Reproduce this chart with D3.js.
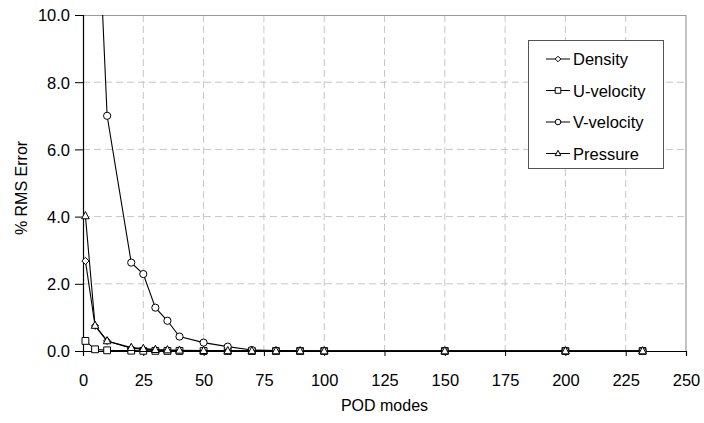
<!DOCTYPE html>
<html>
<head>
<meta charset="utf-8">
<script src="https://cdn.jsdelivr.net/npm/d3@7"></script>
<style>
  html, body { margin: 0; padding: 0; background: #fff; }
  svg { display: block; font-family: "Liberation Sans", Arial, sans-serif; }
</style>
</head>
<body>
<svg id="chart" width="704" height="423"></svg>
<script>
// Number of POD modes retained
const modes = [1, 5, 10, 20, 25, 30, 35, 40, 50, 60, 70, 80, 90, 100, 150, 200, 232];

// % RMS reconstruction error per flow variable
const density   = [2.68, 0.75, 0.30, 0.08, 0.05, 0.03, 0.02, 0.01, 0.005, 0.003, 0.002, 0.001, 0.001, 0.0, 0.0, 0.0, 0.0];
const uVelocity = [0.30, 0.05, 0.02, 0.01, 0.005, 0.004, 0.003, 0.002, 0.001, 0.001, 0.0, 0.0, 0.0, 0.0, 0.0, 0.0, 0.0];
const vVelocity = [30.0, 15.1, 7.0, 2.63, 2.29, 1.29, 0.90, 0.43, 0.25, 0.13, 0.03, 0.01, 0.005, 0.002, 0.0, 0.0, 0.0];
const pressure  = [4.02, 0.76, 0.30, 0.10, 0.07, 0.04, 0.03, 0.02, 0.01, 0.005, 0.003, 0.002, 0.001, 0.0, 0.0, 0.0, 0.0];

const seriesNames = ["Density", "U-velocity", "V-velocity", "Pressure"];
const seriesValues = [density, uVelocity, vVelocity, pressure];
const seriesMarkers = ["diamond", "square", "circle", "triangle"];

const xTicks = [0, 25, 50, 75, 100, 125, 150, 175, 200, 225, 250];
const yTicks = [0, 2, 4, 6, 8, 10];

const svg = d3.select("#chart");
const margin = { top: 15, right: 18, bottom: 72, left: 83 };
const W = 704, H = 423;
const iw = W - margin.left - margin.right;
const ih = H - margin.top - margin.bottom;

const x = d3.scaleLinear().domain([0, 250]).range([0, iw]);
const y = d3.scaleLinear().domain([0, 10]).range([ih, 0]);

const g = svg.append("g").attr("transform", `translate(${margin.left},${margin.top})`);

// Dashed grid
g.append("g").selectAll("line").data(xTicks.filter(d => d > 0 && d < 250)).join("line")
  .attr("x1", d => x(d)).attr("x2", d => x(d)).attr("y1", 0).attr("y2", ih)
  .attr("stroke", "#c6c6c6").attr("stroke-dasharray", "7,4");
g.append("g").selectAll("line").data(yTicks.filter(d => d > 0 && d < 10)).join("line")
  .attr("x1", 0).attr("x2", iw).attr("y1", d => y(d)).attr("y2", d => y(d))
  .attr("stroke", "#c6c6c6").attr("stroke-dasharray", "7,4");

// Plot-area frame (top and right)
g.append("path")
  .attr("d", `M0,0.5H${iw}V${ih}`)
  .attr("fill", "none").attr("stroke", "#9a9a9a").attr("stroke-width", 1.2);

// Axes
const xAxis = g.append("g").attr("transform", `translate(0,${ih})`)
  .call(d3.axisBottom(x).tickValues(xTicks).tickFormat(d3.format("d")).tickSize(5).tickPadding(18));
const yAxis = g.append("g")
  .call(d3.axisLeft(y).tickValues(yTicks).tickFormat(d3.format(".1f")).tickSize(8).tickPadding(5));
[xAxis, yAxis].forEach(a => {
  a.select(".domain").attr("stroke", "#000").attr("stroke-width", 1.2);
  a.selectAll(".tick line").attr("stroke", "#000");
  a.selectAll(".tick text").attr("font-size", 16.5).attr("fill", "#000")
    .attr("font-family", "'Liberation Sans', Arial, sans-serif");
});
yAxis.selectAll(".tick text").attr("dy", "0.36em");

// Axis titles
svg.append("text")
  .attr("x", margin.left + x(125)).attr("y", 411)
  .attr("text-anchor", "middle").attr("font-size", 16).text("POD modes");
svg.append("text")
  .attr("transform", `translate(27,${margin.top + ih / 2 + 5}) rotate(-90)`)
  .attr("text-anchor", "middle").attr("font-size", 16).text("% RMS Error");

// Marker shapes
function markerPath(type, s) {
  switch (type) {
    case "diamond": return `M0,${-s}L${s},0L0,${s}L${-s},0Z`;
    case "square": return `M${-s},${-s}H${s}V${s}H${-s}Z`;
    case "triangle": return `M0,${-s * 1.15}L${s},${s * 0.75}H${-s}Z`;
    default: return null;
  }
}
function drawMarker(sel, type, s) {
  if (type === "circle") {
    sel.append("circle").attr("r", s).attr("fill", "#fff").attr("stroke", "#000").attr("stroke-width", 1);
  } else {
    sel.append("path").attr("d", markerPath(type, s)).attr("fill", "#fff").attr("stroke", "#000").attr("stroke-width", 1);
  }
}

// Clip to the plot area top so off-scale values run out of view
svg.append("defs").append("clipPath").attr("id", "plotClip")
  .append("rect").attr("x", -10).attr("y", 0).attr("width", iw + 20).attr("height", ih + 20);

const plot = g.append("g").attr("clip-path", "url(#plotClip)");
const line = d3.line().x((d, i) => x(modes[i])).y(d => y(d));

seriesValues.forEach((vals, k) => {
  plot.append("path").datum(vals)
    .attr("d", line).attr("fill", "none").attr("stroke", "#000").attr("stroke-width", 1.1);
  const sizes = { diamond: 3.6, square: 3.4, circle: 3.6, triangle: 3.8 };
  vals.forEach((v, i) => {
    if (v > 10) return;
    const m = plot.append("g").attr("transform", `translate(${x(modes[i])},${y(v)})`);
    drawMarker(m, seriesMarkers[k], sizes[seriesMarkers[k]]);
  });
});

// Legend
const lg = svg.append("g").attr("transform", "translate(528,40)");
lg.append("rect").attr("x", 0.5).attr("y", 0.5).attr("width", 135).attr("height", 128)
  .attr("fill", "#fff").attr("stroke", "#555").attr("stroke-width", 1);
seriesNames.forEach((name, k) => {
  const cy = 19 + k * 31.5;
  const row = lg.append("g").attr("transform", `translate(0,${cy})`);
  row.append("line").attr("x1", 18).attr("x2", 42).attr("y1", 0).attr("y2", 0)
    .attr("stroke", "#000").attr("stroke-width", 1);
  const m = row.append("g").attr("transform", "translate(30,0)");
  drawMarker(m, seriesMarkers[k], 2.8);
  row.append("text").attr("x", 45).attr("y", 6).attr("font-size", 16.5).text(name);
});
</script>
</body>
</html>
